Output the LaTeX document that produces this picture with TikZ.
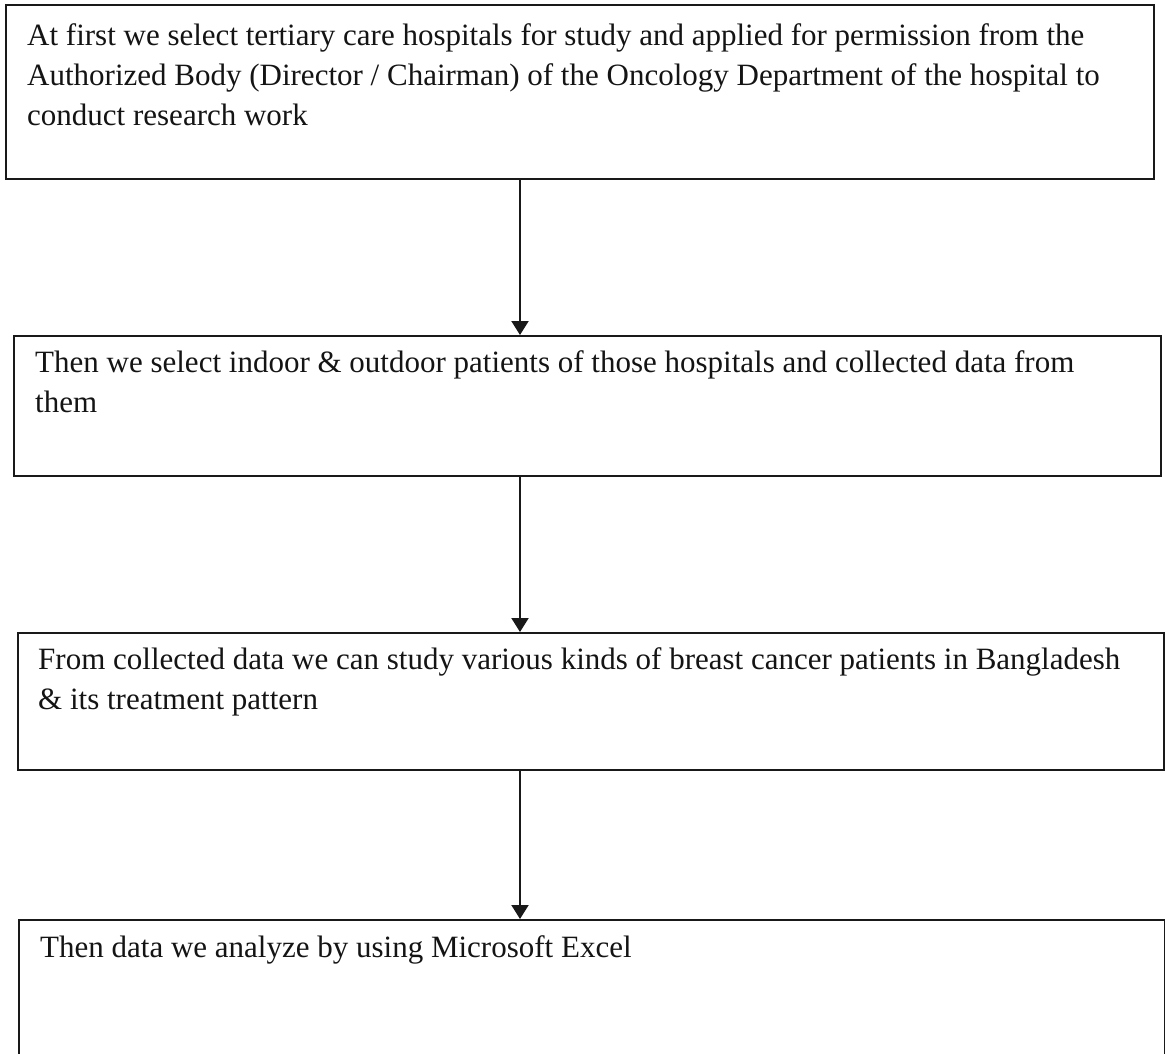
\documentclass[tikz,border=0pt]{standalone}
\usepackage{fontspec}
\setmainfont{Liberation Serif}
\usetikzlibrary{arrows.meta}
\begin{document}
\begin{tikzpicture}[x=1pt,y=-1pt,
  boxstyle/.style={draw=black!90,line width=2pt,inner sep=0pt,anchor=north west},
  linetext/.style={anchor=base west,inner sep=0pt,font=\fontsize{31}{40}\selectfont,text=black!92},
  flowarrow/.style={draw=black!90,line width=2pt,-{Triangle[width=17pt,length=14pt]}}]
\useasboundingbox[fill=white] (0,0) rectangle (1165,1054);
\node[boxstyle,minimum width=1148pt,minimum height=174pt] (b1) at (5,4) {};
\node[boxstyle,minimum width=1147pt,minimum height=140pt] (b2) at (13,335) {};
\node[boxstyle,minimum width=1146pt,minimum height=137pt] (b3) at (17,632) {};
\node[boxstyle,minimum width=1146pt,minimum height=160pt] (b4) at (18,919) {};
\coordinate (ax) at (520,0);
\node[linetext] (t1a) at (27,46) {At first we select tertiary care hospitals for study and applied for permission from the};
\node[linetext] (t1b) at (27,86) {Authorized Body (Director / Chairman) of the Oncology Department of the hospital to};
\node[linetext] (t1c) at (27,126) {conduct research work};
\node[linetext] (t2a) at (35,372) {Then we select indoor \& outdoor patients of those hospitals and collected data from};
\node[linetext] (t2b) at (35,412) {them};
\node[linetext] (t3a) at (38,669) {From collected data we can study various kinds of breast cancer patients in Bangladesh};
\node[linetext] (t3b) at (38,709) {\& its treatment pattern};
\node[linetext] (t4a) at (40,957) {Then data we analyze by using Microsoft Excel};
\draw[flowarrow] (b1.south -| ax) -- (b2.north -| ax);
\draw[flowarrow] (b2.south -| ax) -- (b3.north -| ax);
\draw[flowarrow] (b3.south -| ax) -- (b4.north -| ax);
\end{tikzpicture}
\end{document}
